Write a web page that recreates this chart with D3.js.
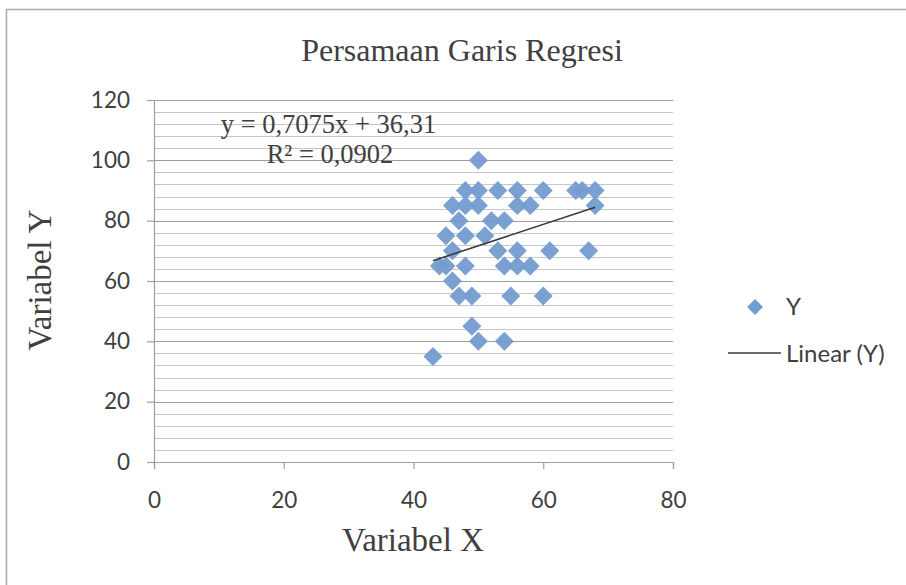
<!DOCTYPE html>
<html><head><meta charset="utf-8">
<script src="https://cdn.jsdelivr.net/npm/d3@7/dist/d3.min.js"></script>
<style>html,body{margin:0;padding:0;background:#fff;}svg{display:block;}</style>
</head><body>
<svg id="chart" width="906" height="585"></svg>
<script>
// ---- data ----
const xValues = [43,44,45,45,46,46,46,47,47,48,48,48,48,49,49,50,50,50,50,51,52,53,53,54,54,54,55,56,56,56,56,58,58,60,60,61,65,66,68,68,67];
const yValues = [35,65,65,75,85,70,60,80,55,90,85,75,65,55,45,100,90,85,40,75,80,90,70,80,65,40,55,90,85,70,65,85,65,90,55,70,90,90,90,85,70];
const xTicks = [0,20,40,60,80];
const yTicks = [0,20,40,60,80,100,120];
const slope = 0.7075, intercept = 36.31;
const titleText = "Persamaan Garis Regresi";
const eqText = "y = 0,7075x + 36,31";
const r2Text = "R² = 0,0902";
const xTitle = "Variabel X", yTitle = "Variabel Y";
const seriesName = "Y", trendName = "Linear (Y)";

// ---- layout ----
const svg = d3.select("#chart");
const L = 154, R = 673, T = 100, B = 462;
const x = d3.scaleLinear().domain([0,80]).range([L,R]);
const y = d3.scaleLinear().domain([0,120]).range([B,T]);
const serif = "'Liberation Serif','Times New Roman',serif";
const sans = "Lato, 'Open Sans', sans-serif";

// border
svg.append("rect").attr("x",6.5).attr("y",9.5).attr("width",920).attr("height",600)
  .attr("fill","none").attr("stroke","#a9a9a9").attr("stroke-width",1.5);

// minor gridlines
const minor = d3.range(4,120,4).filter(v=>v%20!==0);
svg.append("g").selectAll("line").data(minor).join("line")
  .attr("x1",L).attr("x2",R).attr("y1",d=>Math.round(y(d))+0.5).attr("y2",d=>Math.round(y(d))+0.5)
  .attr("stroke","#c6c6c6").attr("stroke-width",1);
// major gridlines
svg.append("g").selectAll("line").data(yTicks.filter(v=>v>0)).join("line")
  .attr("x1",L).attr("x2",R).attr("y1",d=>Math.round(y(d))+0.5).attr("y2",d=>Math.round(y(d))+0.5)
  .attr("stroke","#9e9e9e").attr("stroke-width",1.2);

// axes
const yAxis = svg.append("g").attr("transform",`translate(${L},0)`)
  .call(d3.axisLeft(y).tickValues(yTicks).tickSize(7).tickPadding(17));
const xAxis = svg.append("g").attr("transform",`translate(0,${B})`)
  .call(d3.axisBottom(x).tickValues(xTicks).tickSize(7).tickPadding(23));
[yAxis,xAxis].forEach(g=>{
  g.select(".domain").attr("stroke","#9e9e9e").attr("stroke-width",1.2);
  g.selectAll(".tick line").attr("stroke","#9e9e9e").attr("stroke-width",1.2);
  g.selectAll(".tick text").attr("fill","#404040").style("font-family",sans).style("font-size","22.5px");
});

// points
const diamond = d3.symbol().type(d3.symbolDiamond2).size(230);
const pts = xValues.map((v,i)=>({x:v,y:yValues[i]}));
svg.append("g").selectAll("path").data(pts).join("path")
  .attr("d",diamond).attr("transform",d=>`translate(${x(d.x)},${y(d.y)})`)
  .attr("fill","#739cd0").attr("fill-opacity",0.95);

// trendline
const xmin = d3.min(xValues), xmax = d3.max(xValues);
svg.append("line").attr("x1",x(xmin)).attr("y1",y(slope*xmin+intercept))
  .attr("x2",x(xmax)).attr("y2",y(slope*xmax+intercept))
  .attr("stroke","#3a3a3a").attr("stroke-width",1.6);

// texts
svg.append("text").attr("x",462).attr("y",61).attr("text-anchor","middle")
  .style("font-family",serif).style("font-size","32px").attr("fill","#404040").text(titleText);
svg.append("text").attr("x",328.5).attr("y",133).attr("text-anchor","middle")
  .style("font-family",serif).style("font-size","26.5px").attr("fill","#404040").text(eqText);
svg.append("text").attr("x",330).attr("y",163).attr("text-anchor","middle")
  .style("font-family",serif).style("font-size","26.5px").attr("fill","#404040").text(r2Text);
svg.append("text").attr("x",413).attr("y",551).attr("text-anchor","middle")
  .style("font-family",serif).style("font-size","33px").attr("fill","#404040").text(xTitle);
svg.append("text").attr("transform","translate(51,280) rotate(-90)").attr("text-anchor","middle")
  .style("font-family",serif).style("font-size","33px").attr("fill","#404040").text(yTitle);

// legend
const lg = svg.append("g");
lg.append("path").attr("d",d3.symbol().type(d3.symbolDiamond2).size(160)).attr("transform","translate(755,307)").attr("fill","#739cd0");
lg.append("text").attr("x",786).attr("y",315).style("font-family",sans).style("font-size","24px").attr("fill","#404040").text(seriesName);
lg.append("line").attr("x1",728).attr("x2",781).attr("y1",353).attr("y2",353).attr("stroke","#3a3a3a").attr("stroke-width",1.6);
lg.append("text").attr("x",786).attr("y",362).style("font-family",sans).style("font-size","24px").attr("fill","#404040").text(trendName);
</script>
</body></html>
